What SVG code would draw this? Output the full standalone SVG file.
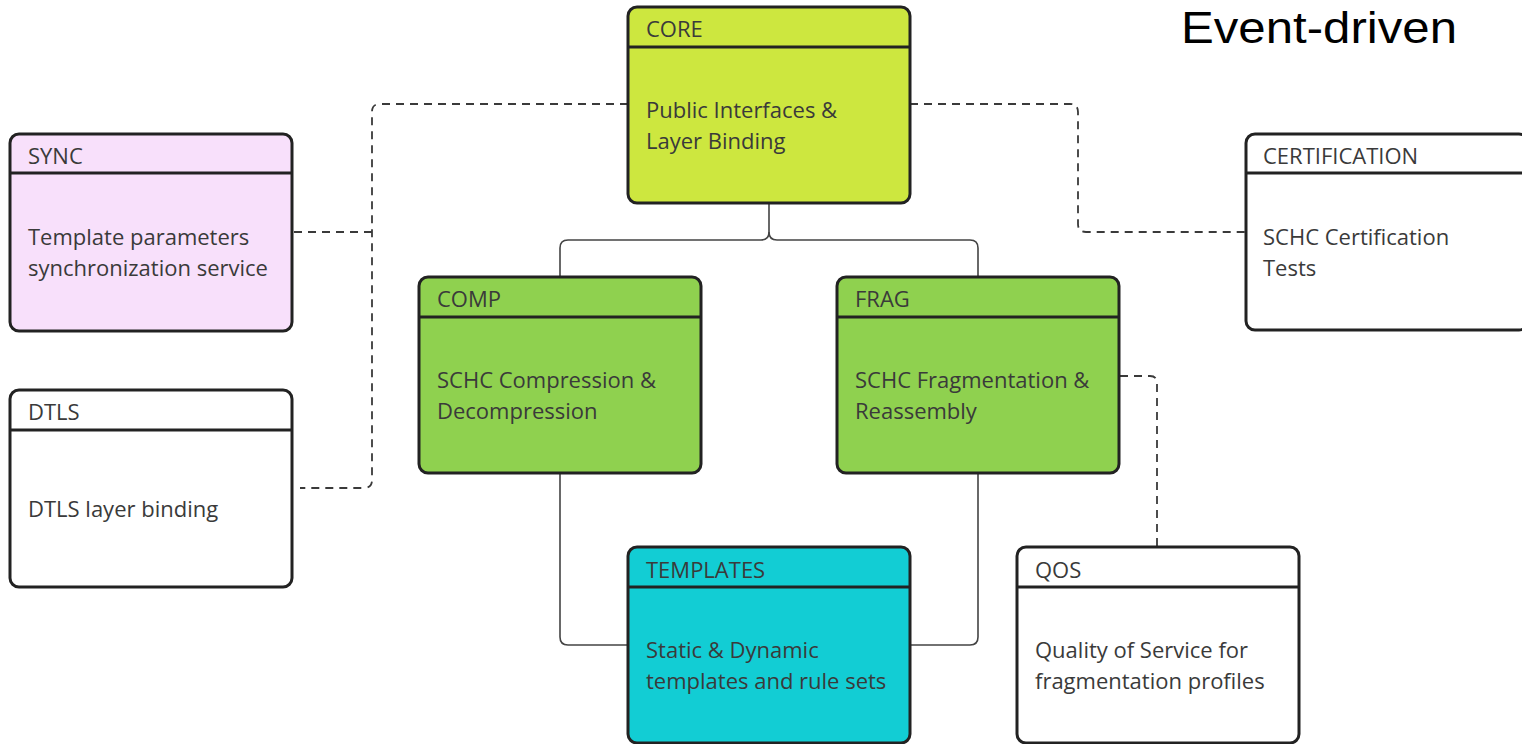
<svg xmlns="http://www.w3.org/2000/svg" width="1522" height="744" viewBox="0 0 1522 744">
<style>
.box{stroke:#222;stroke-width:3}
.hdr{stroke:#222;stroke-width:3}
.t{font-family:"Open Sans","Noto Sans",sans-serif;font-size:22px;fill:#3a3a3a}
.solid{fill:none;stroke:#444;stroke-width:1.6}
.dash{fill:none;stroke:#3a3a3a;stroke-width:1.8;stroke-dasharray:8 6}
.title{font-family:"Liberation Sans",Arial,sans-serif;font-size:44px;fill:#000}
</style>
<rect width="1522" height="744" fill="#fff"/>
<g id="connectors">
<path class="solid" d="M769 204 V232 Q769 240 761 240 H568 Q560 240 560 248 V276"/>
<path class="solid" d="M769 232 Q769 240 777 240 H970 Q978 240 978 248 V276"/>
<path class="solid" d="M560 474 V637 Q560 645 568 645 H628"/>
<path class="solid" d="M978 474 V637 Q978 645 970 645 H910"/>
<path class="dash" d="M628 104 H380 Q372 104 372 112 V480 Q372 488 364 488 H300"/>
<path class="dash" d="M294 232 H372"/>
<path class="dash" d="M910 104 H1070 Q1078 104 1078 112 V224 Q1078 232 1086 232 H1246"/>
<path class="dash" d="M1120 376 H1150 Q1157 376 1157 383 V546"/>
</g>
<g id="CORE">
<rect class="box" x="628" y="7" width="282" height="196" rx="9" fill="#cde73f"/>
<line class="hdr" x1="628" y1="47" x2="910" y2="47"/>
<text class="t" x="646" y="37">CORE</text>
<text class="t" x="646" y="118">Public Interfaces &amp;</text>
<text class="t" x="646" y="149">Layer Binding</text>
</g>
<g id="SYNC">
<rect class="box" x="10" y="134" width="282" height="197" rx="9" fill="#f8e0fb"/>
<line class="hdr" x1="10" y1="173" x2="292" y2="173"/>
<text class="t" x="28" y="164">SYNC</text>
<text class="t" x="28" y="245">Template parameters</text>
<text class="t" x="28" y="276">synchronization service</text>
</g>
<g id="DTLS">
<rect class="box" x="10" y="390" width="282" height="197" rx="9" fill="#fff"/>
<line class="hdr" x1="10" y1="430" x2="292" y2="430"/>
<text class="t" x="28" y="420">DTLS</text>
<text class="t" x="28" y="517">DTLS layer binding</text>
</g>
<g id="CERTIFICATION">
<rect class="box" x="1246" y="134" width="282" height="196" rx="9" fill="#fff"/>
<line class="hdr" x1="1246" y1="173" x2="1528" y2="173"/>
<text class="t" x="1263" y="164">CERTIFICATION</text>
<text class="t" x="1263" y="245">SCHC Certification</text>
<text class="t" x="1263" y="276">Tests</text>
</g>
<g id="COMP">
<rect class="box" x="419" y="277" width="282" height="196" rx="9" fill="#8fd14f"/>
<line class="hdr" x1="419" y1="317" x2="701" y2="317"/>
<text class="t" x="437" y="307">COMP</text>
<text class="t" x="437" y="388">SCHC Compression &amp;</text>
<text class="t" x="437" y="419">Decompression</text>
</g>
<g id="FRAG">
<rect class="box" x="837" y="277" width="282" height="196" rx="9" fill="#8fd14f"/>
<line class="hdr" x1="837" y1="317" x2="1119" y2="317"/>
<text class="t" x="855" y="307">FRAG</text>
<text class="t" x="855" y="388">SCHC Fragmentation &amp;</text>
<text class="t" x="855" y="419">Reassembly</text>
</g>
<g id="TEMPLATES">
<rect class="box" x="628" y="547" width="282" height="196" rx="9" fill="#12cdd4"/>
<line class="hdr" x1="628" y1="587" x2="910" y2="587"/>
<text class="t" x="646" y="578">TEMPLATES</text>
<text class="t" x="646" y="658">Static &amp; Dynamic</text>
<text class="t" x="646" y="689">templates and rule sets</text>
</g>
<g id="QOS">
<rect class="box" x="1017" y="547" width="282" height="196" rx="9" fill="#fff"/>
<line class="hdr" x1="1017" y1="587" x2="1299" y2="587"/>
<text class="t" x="1035" y="578">QOS</text>
<text class="t" x="1035" y="658">Quality of Service for</text>
<text class="t" x="1035" y="689">fragmentation profiles</text>
</g>
<text class="title" x="1181" y="43" textLength="276" lengthAdjust="spacingAndGlyphs">Event-driven</text>
</svg>
